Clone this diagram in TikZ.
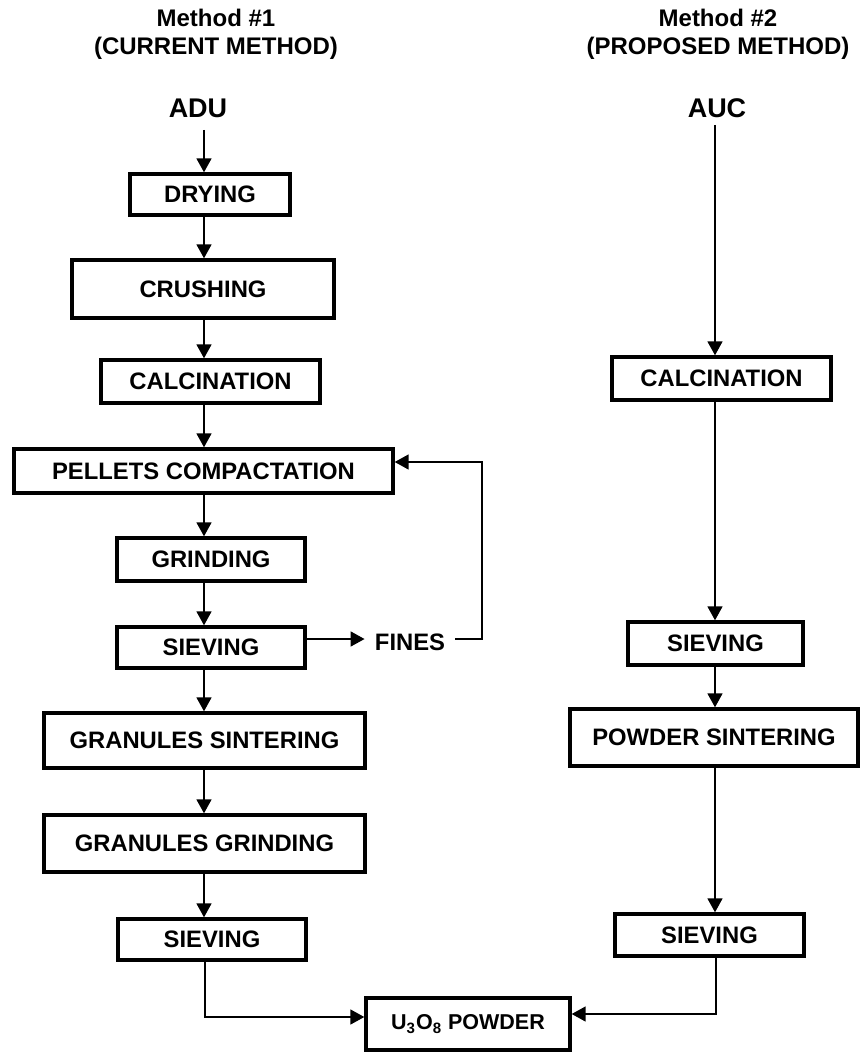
\documentclass[tikz,border=0pt]{standalone}
\usepackage{fontspec}
\setmainfont{Liberation Sans}
\usetikzlibrary{arrows.meta}
\begin{document}
\begin{tikzpicture}[x=0.5pt,y=-0.5pt,
  box/.style={draw, line width=1.7pt, inner sep=0pt, align=center,
    font=\fontsize{11.9}{14}\selectfont\bfseries},
  lbl/.style={inner sep=0pt, align=center, font=\fontsize{11.9}{14}\selectfont\bfseries},
  src/.style={inner sep=0pt, font=\fontsize{13.5}{16}\selectfont\bfseries},
  arr/.style={line width=0.85pt, -{Triangle[width=7.5pt,length=7pt]}},
  ln/.style={line width=0.85pt}]
\useasboundingbox (0,0) rectangle (861,1055);
% titles
\node[lbl, font=\fontsize{12}{14}\selectfont\bfseries] (t1) at (216,34) {Method \#1\\(CURRENT METHOD)};
\node[lbl, font=\fontsize{12}{14}\selectfont\bfseries] (t2) at (718,34) {Method \#2\\(PROPOSED METHOD)};
\node[src] (adu) at (198,108) {ADU};
\node[src] (auc) at (717,108) {AUC};
% left column boxes
\node[box, minimum width=80pt, minimum height=20.5pt] (dry) at (210,194.5) {DRYING};
\node[box, minimum width=131pt, minimum height=29pt] (crush) at (203,289) {CRUSHING};
\node[box, minimum width=109.5pt, minimum height=21.5pt] (calc1) at (210.5,381.5) {CALCINATION};
\node[box, minimum width=189.5pt, minimum height=22pt] (pel) at (203.5,471) {PELLETS COMPACTATION};
\node[box, minimum width=94pt, minimum height=21.5pt] (grind) at (211,559.5) {GRINDING};
\node[box, minimum width=94pt, minimum height=20.5pt] (siev1) at (211,647.5) {SIEVING};
\node[box, minimum width=160.5pt, minimum height=27.5pt] (gsint) at (204.5,740.5) {GRANULES SINTERING};
\node[box, minimum width=160.5pt, minimum height=28.5pt] (ggrind) at (204.5,843.5) {GRANULES GRINDING};
\node[box, minimum width=94pt, minimum height=20.5pt] (siev2) at (212,939.5) {SIEVING};
% right column boxes
\node[box, minimum width=109.5pt, minimum height=21.5pt] (calc2) at (721.5,378.5) {CALCINATION};
\node[box, minimum width=87.5pt, minimum height=21.5pt] (siev3) at (715.5,643.5) {SIEVING};
\node[box, minimum width=144pt, minimum height=28.5pt] (psint) at (714,737.5) {POWDER SINTERING};
\node[box, minimum width=94.5pt, minimum height=21pt] (siev4) at (709.5,935) {SIEVING};
% product
\node[box, minimum width=102pt, minimum height=26pt, font=\fontsize{10.75}{13}\selectfont\bfseries] (u3o8) at (468,1024) {U\textsubscript{3}O\textsubscript{8} POWDER};
% fines
\node[lbl, inner xsep=5pt] (fines) at (410,642) {FINES};
% column coordinates
\coordinate (cl) at (204,0);
\coordinate (cr) at (715,0);
\coordinate (fy) at (0,639);
\coordinate (fb) at (482,639);
\coordinate (py) at (0,462);
\coordinate (ly) at (0,1017);
\coordinate (ry) at (0,1014);
\coordinate (bl) at (205,0);
\coordinate (br) at (716,0);
% left column connectors
\draw[arr] (adu.south -| cl) ++(0,12) -- (dry.north -| cl);
\draw[arr] (dry.south -| cl) -- (crush.north -| cl);
\draw[arr] (crush.south -| cl) -- (calc1.north -| cl);
\draw[arr] (calc1.south -| cl) -- (pel.north -| cl);
\draw[arr] (pel.south -| cl) -- (grind.north -| cl);
\draw[arr] (grind.south -| cl) -- (siev1.north -| cl);
\draw[arr] (siev1.south -| cl) -- (gsint.north -| cl);
\draw[arr] (gsint.south -| cl) -- (ggrind.north -| cl);
\draw[arr] (ggrind.south -| cl) -- (siev2.north -| cl);
% fines loop
\draw[arr] (siev1.east |- fy) -- (fines.west |- fy);
\draw[arr] (fines.east |- fy) -- (fb) |- (pel.east |- py);
% right column connectors
\draw[arr] (auc.south -| cr) ++(0,7) -- (calc2.north -| cr);
\draw[arr] (calc2.south -| cr) -- (siev3.north -| cr);
\draw[arr] (siev3.south -| cr) -- (psint.north -| cr);
\draw[arr] (psint.south -| cr) -- (siev4.north -| cr);
% to product
\draw[arr] (siev2.south -| bl) |- (u3o8.west |- ly);
\draw[arr] (siev4.south -| br) |- (u3o8.east |- ry);
\end{tikzpicture}
\end{document}
